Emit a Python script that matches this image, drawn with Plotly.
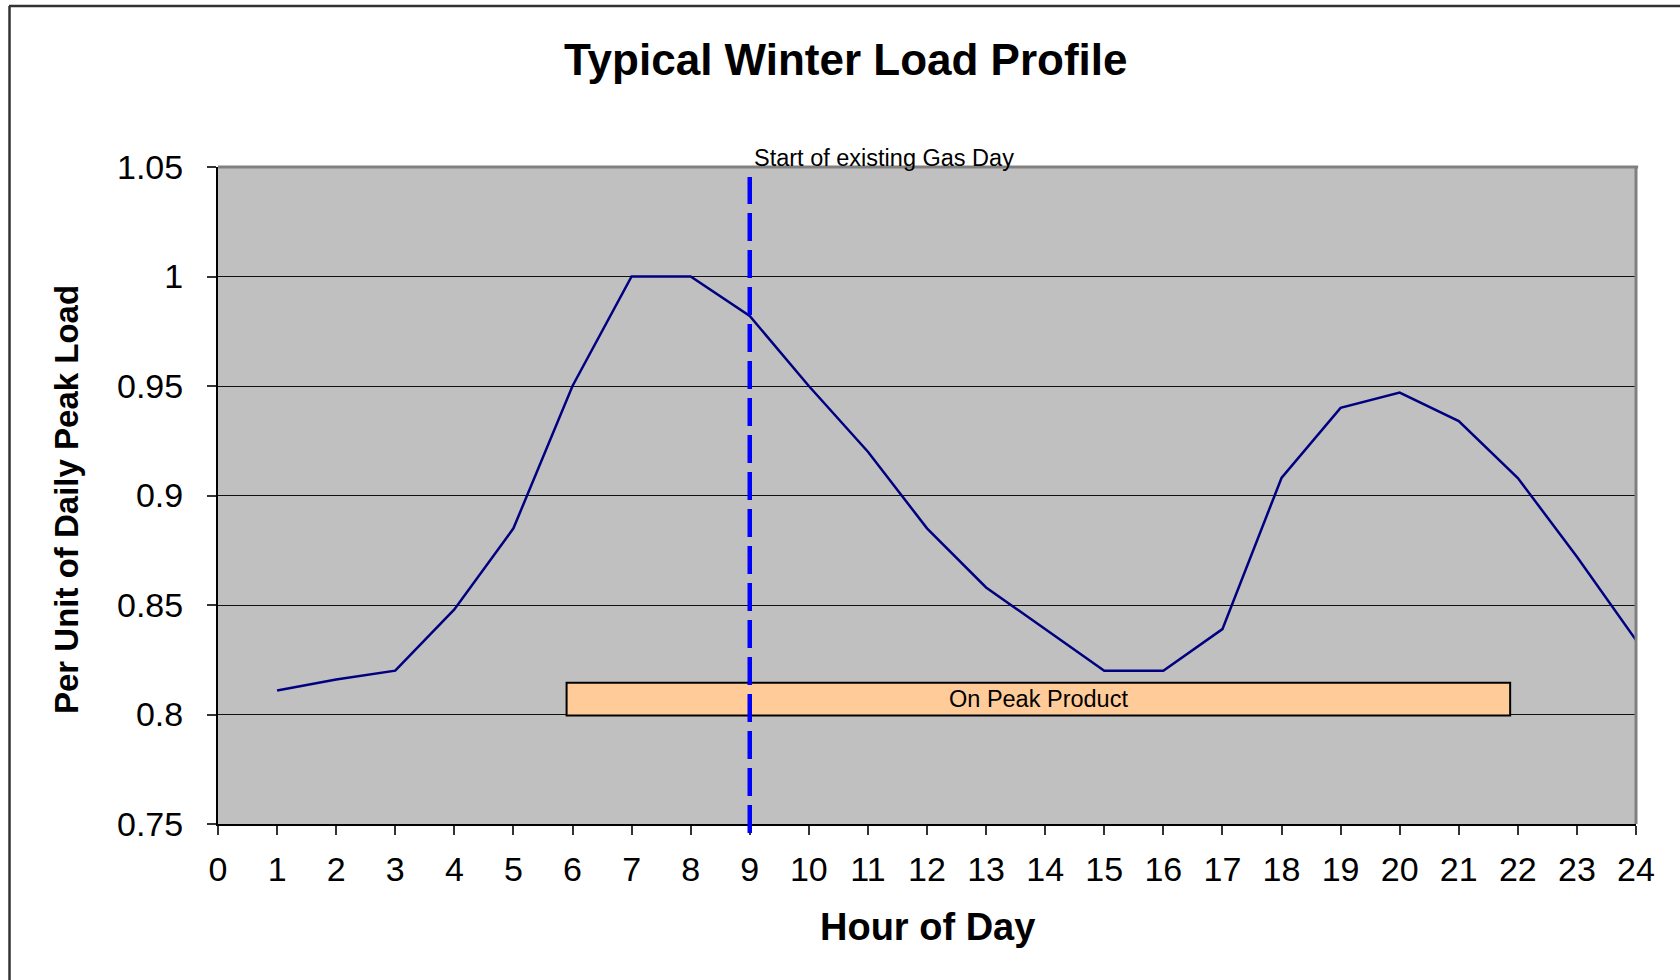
import plotly.graph_objects as go

# ---- data ----
hours = list(range(1, 25))
load = [0.811, 0.816, 0.820, 0.848, 0.885, 0.950, 1.000, 1.000, 0.982, 0.950,
        0.920, 0.885, 0.858, 0.839, 0.820, 0.820, 0.839, 0.908, 0.940, 0.947,
        0.934, 0.908, 0.872, 0.834]
y_ticks = [0.75, 0.8, 0.85, 0.9, 0.95, 1.0, 1.05]
y_tick_text = ["0.75", "0.8", "0.85", "0.9", "0.95", "1", "1.05"]
x_ticks = list(range(0, 25))
gas_day_hour = 9
on_peak_start, on_peak_end = 5.9, 21.87

title_text = "Typical Winter Load Profile"
x_title = "Hour of Day"
y_title = "Per Unit of Daily Peak Load"

FONT = "Liberation Sans, Arial, sans-serif"
W, H = 1680, 980
ML, MR, MT, MB = 218, 44, 167, 156
PW, PH = W - ML - MR, H - MT - MB


def px_x(px):
    return (px - ML) / PW


def px_y(py):
    return (H - MB - py) / PH


fig = go.Figure()
fig.add_trace(go.Scatter(x=hours, y=load, mode="lines",
                         line=dict(color="#000080", width=2.5),
                         showlegend=False, hoverinfo="x+y"))

shapes = []
# On peak product box
shapes.append(dict(type="rect", xref="x", yref="y",
                   x0=on_peak_start, x1=on_peak_end, y0=0.7995, y1=0.8145,
                   fillcolor="#FFCC99", line=dict(color="black", width=2),
                   layer="above"))
# Gas day dashed line
shapes.append(dict(type="line", xref="x", yref="paper",
                   x0=gas_day_hour, x1=gas_day_hour, y0=px_y(833), y1=px_y(177),
                   line=dict(color="#0000FF", width=4.5, dash="28px,9px"),
                   layer="above"))
# plot area gray top & right border
shapes.append(dict(type="line", xref="paper", yref="paper", x0=0, x1=1.0015, y0=1, y1=1,
                   line=dict(color="#808080", width=3), layer="above"))
shapes.append(dict(type="line", xref="paper", yref="paper", x0=1, x1=1, y0=0, y1=1,
                   line=dict(color="#808080", width=3), layer="above"))
# outer chart frame (top and left visible)
shapes.append(dict(type="line", xref="paper", yref="paper",
                   x0=px_x(9), x1=px_x(1700), y0=px_y(6), y1=px_y(6),
                   line=dict(color="#333333", width=2.5), layer="above"))
shapes.append(dict(type="line", xref="paper", yref="paper",
                   x0=px_x(9.5), x1=px_x(9.5), y0=px_y(6), y1=px_y(1000),
                   line=dict(color="#333333", width=2.5), layer="above"))

annotations = [
    dict(text=title_text, xref="paper", yref="paper", x=px_x(846), y=px_y(59),
         xanchor="center", yanchor="middle", showarrow=False,
         font=dict(family=FONT, size=44, color="black", weight="bold")),
    dict(text=x_title, xref="paper", yref="paper", x=0.5, y=px_y(927),
         xanchor="center", yanchor="middle", showarrow=False,
         font=dict(family=FONT, size=38, color="black", weight="bold")),
    dict(text=y_title, xref="paper", yref="paper", x=px_x(66), y=px_y(500),
         xanchor="center", yanchor="middle", showarrow=False, textangle=-90,
         font=dict(family=FONT, size=33, color="black", weight="bold")),
    dict(text="Start of existing Gas Day", xref="x", yref="paper",
         x=9.04, y=px_y(158), xanchor="left", yanchor="middle", showarrow=False,
         font=dict(family=FONT, size=23.5, color="black")),
    dict(text="On Peak Product", xref="x", yref="y", x=13.89, y=0.807,
         xanchor="center", yanchor="middle", showarrow=False,
         font=dict(family=FONT, size=23.5, color="black")),
]

fig.update_layout(
    width=W, height=H,
    margin=dict(l=ML, r=MR, t=MT, b=MB),
    paper_bgcolor="white", plot_bgcolor="#C0C0C0",
    shapes=shapes, annotations=annotations, showlegend=False,
    font=dict(family=FONT, color="black"),
)
fig.update_xaxes(range=[0, 24], tickmode="array", tickvals=x_ticks,
                 ticktext=[str(v) for v in x_ticks],
                 showgrid=False, zeroline=False,
                 showline=True, linecolor="black", linewidth=2,
                 ticks="outside", ticklen=9, tickwidth=1.5, tickcolor="#333333",
                 ticklabelstandoff=5,
                 tickfont=dict(family=FONT, size=34, color="black"))
fig.update_yaxes(range=[0.75, 1.05], tickmode="array", tickvals=y_ticks,
                 ticktext=y_tick_text,
                 showgrid=True, gridcolor="#111111", gridwidth=1, zeroline=False,
                 showline=True, linecolor="black", linewidth=2,
                 ticks="outside", ticklen=9, tickwidth=1.5, tickcolor="#333333",
                 ticklabelstandoff=17,
                 tickfont=dict(family=FONT, size=34, color="black"))

fig.write_html("out.html", config={"displayModeBar": False},
               post_script="document.body.style.margin='0';document.body.style.overflow='hidden';")
